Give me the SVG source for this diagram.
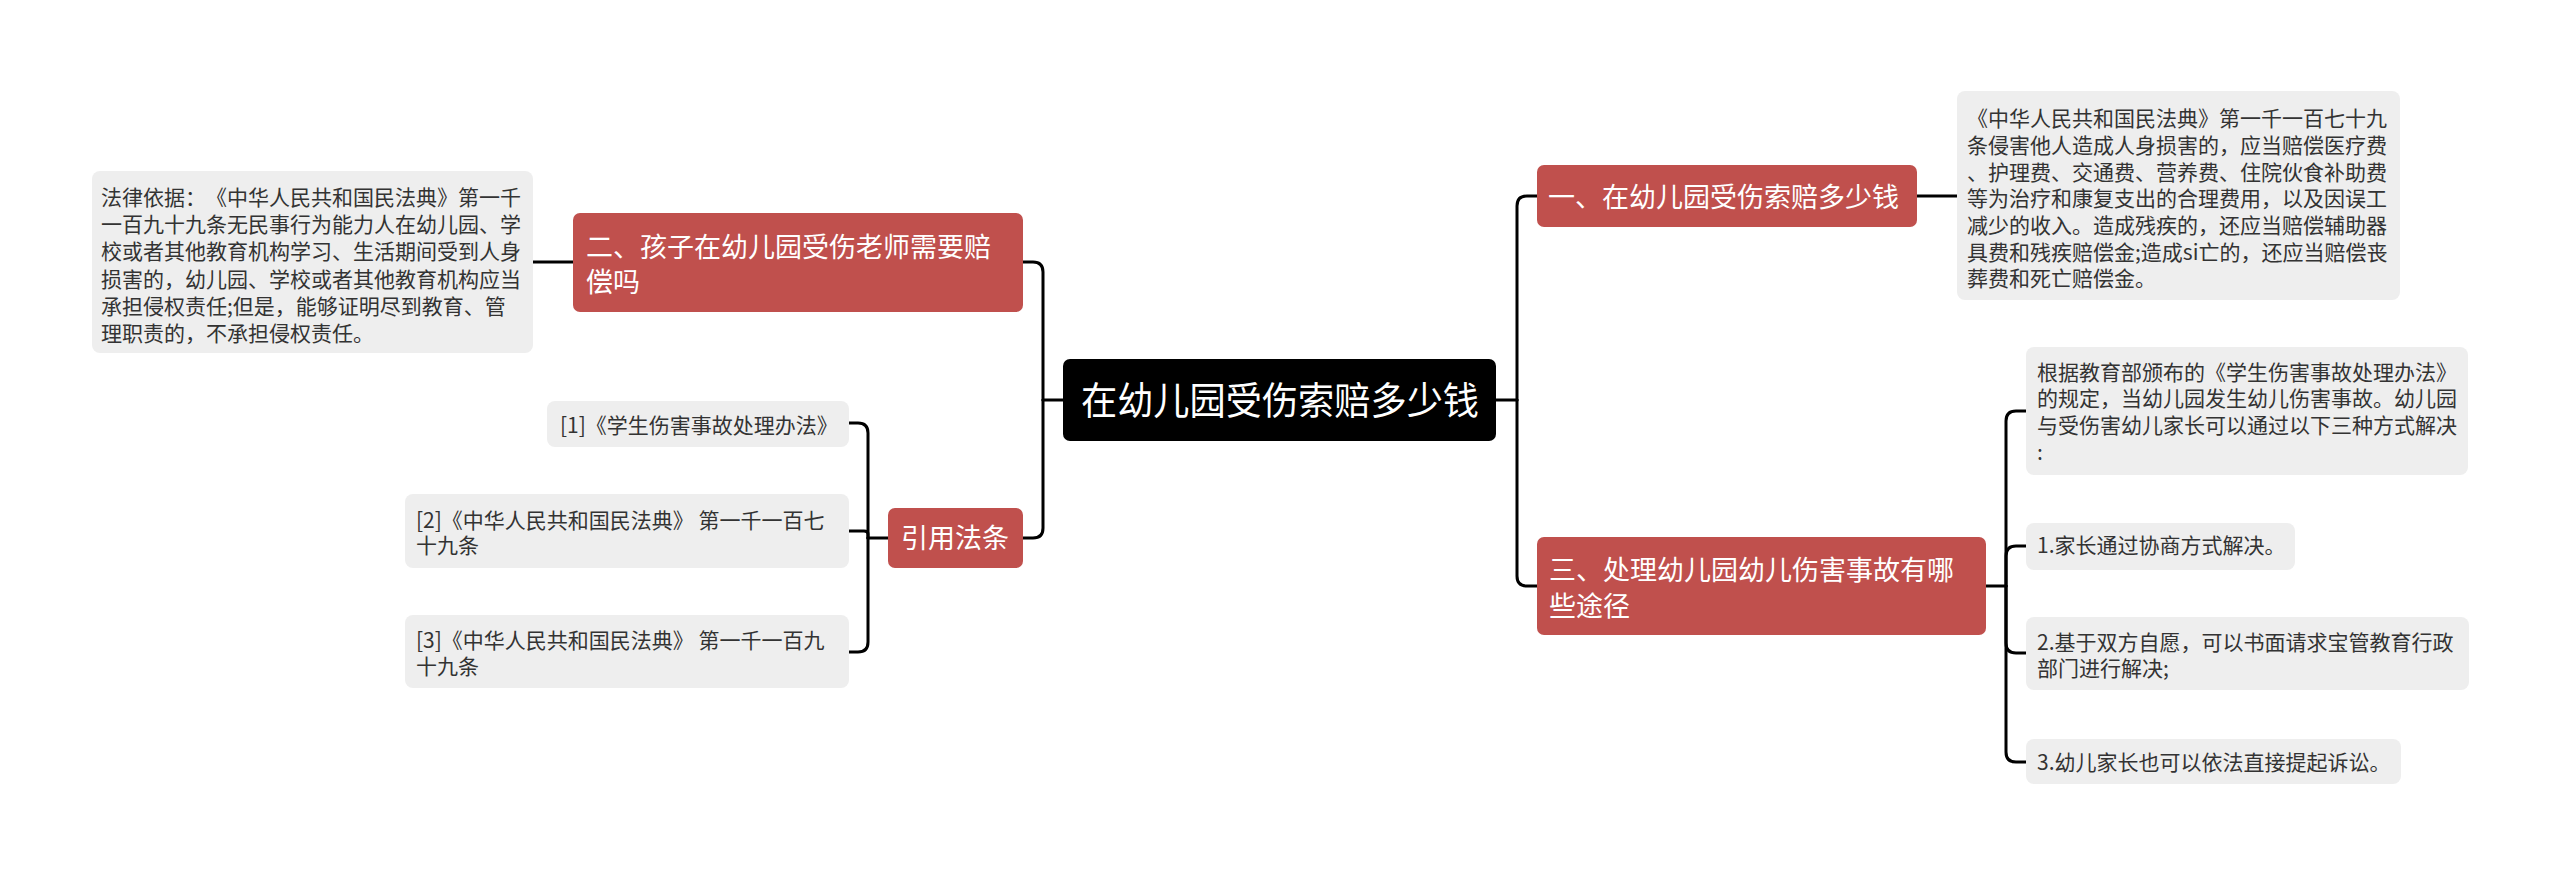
<svg xmlns="http://www.w3.org/2000/svg" width="2560" height="875" viewBox="0 0 2560 875">
<style>
text{font-family:"Noto Sans CJK SC","Noto Sans",sans-serif;text-spacing-trim:space-all;}
.root{fill:#000;}
.main{fill:#C0504D;}
.leaf{fill:#EEEEEE;}
.tr{fill:#fff;font-size:38px;}
.tm{fill:#fff;font-size:27px;}
.tl{fill:#333;font-size:21px;}
.conn path{fill:none;stroke:#000;stroke-width:3;stroke-linecap:round;stroke-linejoin:round;}
</style>
<rect width="2560" height="875" fill="#fff"/>
<g class="conn" id="connectors">
<path d="M1063 400 H1043"/>
<path d="M1043 400 V272 Q1043 262 1033 262 H1023"/>
<path d="M1043 400 V528 Q1043 538 1033 538 H1023"/>
<path d="M1496 400 H1517"/>
<path d="M1517 400 V206 Q1517 196 1527 196 H1537"/>
<path d="M1517 400 V576 Q1517 586 1527 586 H1537"/>
<path d="M1917 196 H1957"/>
<path d="M573 262 H533"/>
<path d="M888 538 H868"/>
<path d="M868 538 V433 Q868 423 858 423 H849"/>
<path d="M868 538 V534 Q868 531 864 531 H849"/>
<path d="M868 538 V642 Q868 652 858 652 H849"/>
<path d="M1986 586 H2006"/>
<path d="M2006 586 V421 Q2006 411 2016 411 H2026"/>
<path d="M2006 586 V556 Q2006 546 2016 546 H2026"/>
<path d="M2006 586 V643 Q2006 653 2016 653 H2026"/>
<path d="M2006 586 V752 Q2006 762 2016 762 H2026"/>
</g>
<g id="root">
<rect class="root" x="1063" y="359" width="433" height="82" rx="7"/>
<text class="tr" x="1081" y="414" textLength="398" lengthAdjust="spacingAndGlyphs">在幼儿园受伤索赔多少钱</text>
</g>
<g id="n1">
<rect class="main" x="1537" y="165" width="380" height="62" rx="7"/>
<text class="tm" x="1548" y="207">一、在幼儿园受伤索赔多少钱</text>
</g>
<g id="n1-leaf">
<rect class="leaf" x="1957" y="91" width="443" height="209" rx="8"/>
<text class="tl" x="1967" y="126">《中华人民共和国民法典》第一千一百七十九</text>
<text class="tl" x="1967" y="153">条侵害他人造成人身损害的，应当赔偿医疗费</text>
<text class="tl" x="1967" y="180">、护理费、交通费、营养费、住院伙食补助费</text>
<text class="tl" x="1967" y="206">等为治疗和康复支出的合理费用，以及因误工</text>
<text class="tl" x="1967" y="233">减少的收入。造成残疾的，还应当赔偿辅助器</text>
<text class="tl" x="1967" y="260">具费和残疾赔偿金;造成si亡的，还应当赔偿丧</text>
<text class="tl" x="1967" y="286">葬费和死亡赔偿金。</text>
</g>
<g id="n2">
<rect class="main" x="573" y="213" width="450" height="99" rx="7"/>
<text class="tm" x="586" y="257">二、孩子在幼儿园受伤老师需要赔</text>
<text class="tm" x="586" y="292">偿吗</text>
</g>
<g id="n2-leaf">
<rect class="leaf" x="92" y="171" width="441" height="182" rx="8"/>
<text class="tl" x="101" y="205">法律依据：《中华人民共和国民法典》第一千</text>
<text class="tl" x="101" y="232">一百九十九条无民事行为能力人在幼儿园、学</text>
<text class="tl" x="101" y="259">校或者其他教育机构学习、生活期间受到人身</text>
<text class="tl" x="101" y="287">损害的，幼儿园、学校或者其他教育机构应当</text>
<text class="tl" x="101" y="314">承担侵权责任;但是，能够证明尽到教育、管</text>
<text class="tl" x="101" y="341">理职责的，不承担侵权责任。</text>
</g>
<g id="n3">
<rect class="main" x="1537" y="537" width="449" height="98" rx="7"/>
<text class="tm" x="1549" y="580">三、处理幼儿园幼儿伤害事故有哪</text>
<text class="tm" x="1549" y="616">些途径</text>
</g>
<g id="n3-leaf0">
<rect class="leaf" x="2026" y="347" width="442" height="128" rx="8"/>
<text class="tl" x="2037" y="380">根据教育部颁布的《学生伤害事故处理办法》</text>
<text class="tl" x="2037" y="406">的规定，当幼儿园发生幼儿伤害事故。幼儿园</text>
<text class="tl" x="2037" y="433">与受伤害幼儿家长可以通过以下三种方式解决</text>
<text class="tl" x="2037" y="460">:</text>
</g>
<g id="n3-leaf1">
<rect class="leaf" x="2026" y="523" width="269" height="47" rx="8"/>
<text class="tl" x="2037" y="553">1.家长通过协商方式解决。</text>
</g>
<g id="n3-leaf2">
<rect class="leaf" x="2026" y="617" width="443" height="73" rx="8"/>
<text class="tl" x="2037" y="650">2.基于双方自愿，可以书面请求宝管教育行政</text>
<text class="tl" x="2037" y="676">部门进行解决;</text>
</g>
<g id="n3-leaf3">
<rect class="leaf" x="2026" y="739" width="375" height="45" rx="8"/>
<text class="tl" x="2037" y="770">3.幼儿家长也可以依法直接提起诉讼。</text>
</g>
<g id="n4">
<rect class="main" x="888" y="508" width="135" height="60" rx="7"/>
<text class="tm" x="955" y="548" text-anchor="middle">引用法条</text>
</g>
<g id="n4-leaf1">
<rect class="leaf" x="547" y="401" width="302" height="46" rx="8"/>
<text class="tl" x="560" y="433">[1]《学生伤害事故处理办法》</text>
</g>
<g id="n4-leaf2">
<rect class="leaf" x="405" y="494" width="444" height="74" rx="8"/>
<text class="tl" x="416" y="528">[2]《中华人民共和国民法典》 第一千一百七</text>
<text class="tl" x="416" y="553">十九条</text>
</g>
<g id="n4-leaf3">
<rect class="leaf" x="405" y="615" width="444" height="73" rx="8"/>
<text class="tl" x="416" y="648">[3]《中华人民共和国民法典》 第一千一百九</text>
<text class="tl" x="416" y="674">十九条</text>
</g>
</svg>
